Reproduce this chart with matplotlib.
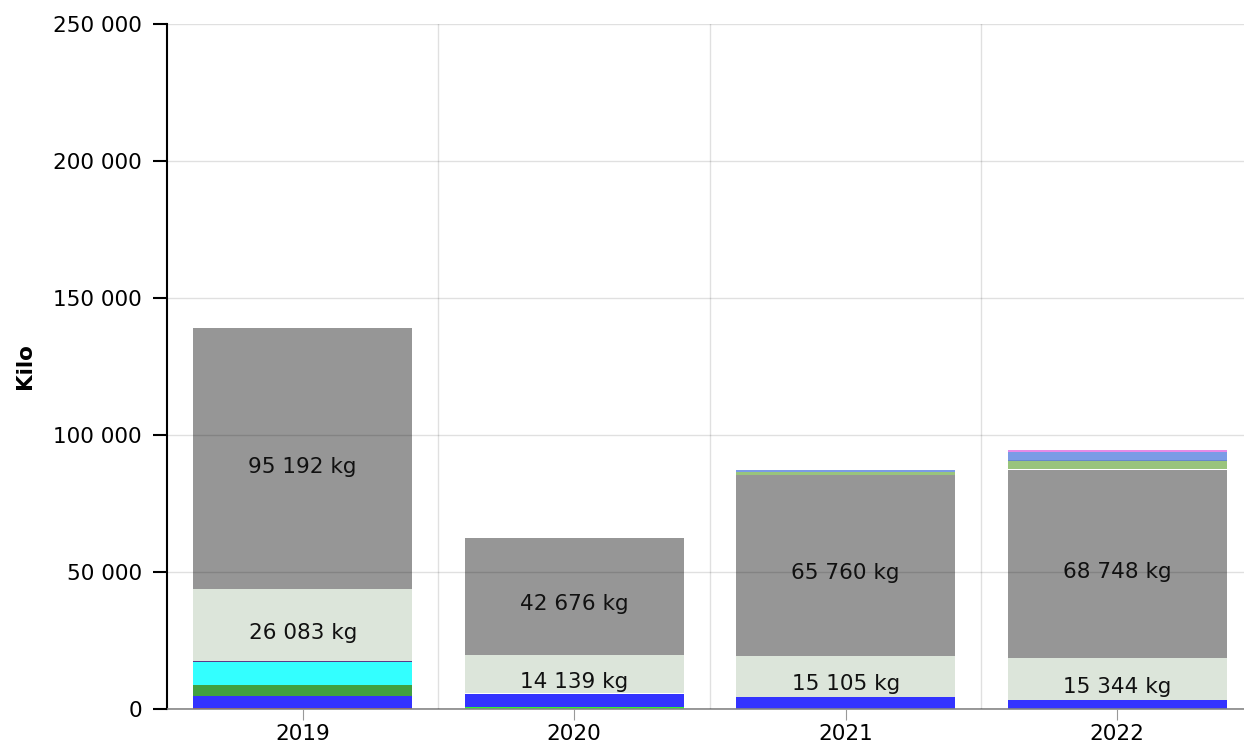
import matplotlib
matplotlib.use('Agg')
import matplotlib.pyplot as plt
import numpy as np

years = ['2019', '2020', '2021', '2022']

# segments from bottom to top (kg)
red = [400, 0, 0, 0]
green_lime = [0, 600, 0, 0]
blue = [4400, 4800, 4400, 3300]
green_dark = [4000, 0, 0, 0]
cyan = [8300, 0, 0, 0]
purple = [600, 0, 0, 0]
white_low = [0, 350, 0, 0]
light = [26083, 14139, 15105, 15344]
gray = [95192, 42676, 65760, 68748]
white_top = [0, 0, 0, 350]
green_light = [0, 0, 1300, 2900]
blue_dark = [0, 0, 0, 400]
blue_light = [0, 0, 750, 2800]
pink = [0, 0, 0, 600]

series = [
    (red, '#cc1111'),
    (green_lime, '#33ee33'),
    (blue, '#3333ff'),
    (green_dark, '#41a041'),
    (cyan, '#33ffff'),
    (purple, '#5a3a8a'),
    (white_low, '#ffffff'),
    (light, '#dce5da'),
    (gray, '#969696'),
    (white_top, '#ffffff'),
    (green_light, '#99c47c'),
    (blue_dark, '#6688cc'),
    (blue_light, '#7b9be6'),
    (pink, '#e68ae6'),
]
labeled = {7, 8}
fs = 15.5

fig = plt.figure(figsize=(12.44, 7.56), dpi=100)
ax = fig.add_axes([167 / 1244, 1 - 709 / 756, 1 - 167 / 1244, 685 / 756])
ax.set_axisbelow(False)

x = np.arange(len(years))
bottom = np.zeros(len(years))
for i, (vals, col) in enumerate(series):
    vals = np.array(vals, dtype=float)
    ax.bar(x, vals, 0.807, bottom=bottom, color=col, zorder=1, linewidth=0)
    if i in labeled:
        for xi, v, b in zip(x, vals, bottom):
            txt = '{:,}'.format(int(v)).replace(',', ' ') + ' kg'
            ax.annotate(txt, (xi, b + v / 2), xytext=(0, -8), textcoords='offset pixels',
                        ha='center', va='center', fontsize=fs, color='#111111', zorder=4)
    bottom += vals

ax.set_ylim(0, 250000)
ax.set_xlim(-0.5, 3.467)
ax.set_yticks(np.arange(0, 250001, 50000))
ax.set_yticklabels(['{:,}'.format(v).replace(',', ' ') for v in range(0, 250001, 50000)],
                   fontsize=fs)
ax.set_xticks(x)
ax.set_xticklabels(years, fontsize=fs)
ax.set_xticks([0.5, 1.5, 2.5], minor=True)
ax.tick_params(axis='x', which='minor', length=0)
ax.tick_params(axis='x', which='major', length=8, color='#999999', pad=3)
ax.tick_params(axis='y', length=10, color='black', width=1.5, pad=8)
ax.grid(True, axis='y', color='black', alpha=0.12, linewidth=1, zorder=3)
ax.grid(True, axis='x', which='minor', color='black', alpha=0.12, linewidth=1, zorder=3)

for s in ['top', 'right']:
    ax.spines[s].set_visible(False)
ax.spines['left'].set_linewidth(1.5)
ax.spines['left'].set_color('black')
ax.spines['bottom'].set_color('#888888')
ax.spines['bottom'].set_linewidth(1.2)

fig.text(25 / 1244, 1 - 366 / 756, 'Kilo', rotation=90, ha='center', va='center',
         fontsize=fs, fontweight='bold')

fig.savefig('out.png', dpi=100)
